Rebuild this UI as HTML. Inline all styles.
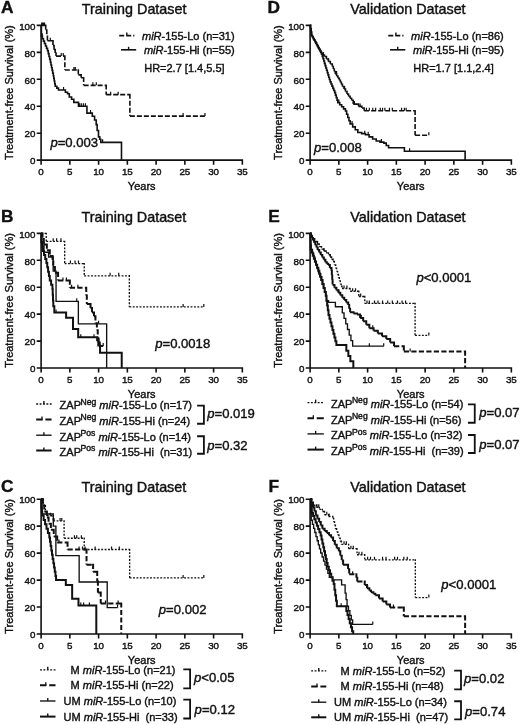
<!DOCTYPE html>
<html><head><meta charset="utf-8"><title>Figure</title>
<style>
html,body{margin:0;padding:0;background:#fff;}
body{width:520px;height:725px;overflow:hidden;}
svg{display:block;will-change:transform;}
text{font-family:"Liberation Sans", sans-serif;fill:#111;stroke:#111;stroke-width:0.4px;}
.tk{font-size:9.8px;}
.lg{font-size:11px;}
.sup{font-size:8.6px;}
.pv{font-size:13.1px;}
.tt{font-size:13.8px;}
.pl{font-size:17.3px;font-weight:bold;}
</style></head>
<body>
<svg width="520" height="725" viewBox="0 0 520 725">
<rect width="520" height="725" fill="#fff"/>
<path d="M41.10,24.60V160.95M40.30,160.15H243.15M36.70,160.15H41.10M36.70,133.20H41.10M36.70,106.25H41.10M36.70,79.30H41.10M36.70,52.35H41.10M36.70,25.40H41.10M41.10,160.15V164.75M69.85,160.15V164.75M98.60,160.15V164.75M127.35,160.15V164.75M156.10,160.15V164.75M184.85,160.15V164.75M213.60,160.15V164.75M242.35,160.15V164.75" stroke="#111" stroke-width="1.6" fill="none"/>
<text x="35.50" y="164.35" text-anchor="end" class="tk">0</text>
<text x="35.50" y="137.40" text-anchor="end" class="tk">20</text>
<text x="35.50" y="110.45" text-anchor="end" class="tk">40</text>
<text x="35.50" y="83.50" text-anchor="end" class="tk">60</text>
<text x="35.50" y="56.55" text-anchor="end" class="tk">80</text>
<text x="35.50" y="29.60" text-anchor="end" class="tk">100</text>
<text x="41.10" y="175.25" text-anchor="middle" class="tk">0</text>
<text x="69.85" y="175.25" text-anchor="middle" class="tk">5</text>
<text x="98.60" y="175.25" text-anchor="middle" class="tk">10</text>
<text x="127.35" y="175.25" text-anchor="middle" class="tk">15</text>
<text x="156.10" y="175.25" text-anchor="middle" class="tk">20</text>
<text x="184.85" y="175.25" text-anchor="middle" class="tk">25</text>
<text x="213.60" y="175.25" text-anchor="middle" class="tk">30</text>
<text x="242.35" y="175.25" text-anchor="middle" class="tk">35</text>
<text x="141.72" y="189.95" text-anchor="middle" class="lg">Years</text>
<text transform="translate(13.40,92.58) rotate(-90)" text-anchor="middle" class="lg">Treatment-free Survival (%)</text>
<path d="M41.10,232.60V368.80M40.30,368.00H243.15M36.70,368.00H41.10M36.70,341.08H41.10M36.70,314.16H41.10M36.70,287.24H41.10M36.70,260.32H41.10M36.70,233.40H41.10M41.10,368.00V372.60M69.85,368.00V372.60M98.60,368.00V372.60M127.35,368.00V372.60M156.10,368.00V372.60M184.85,368.00V372.60M213.60,368.00V372.60M242.35,368.00V372.60" stroke="#111" stroke-width="1.6" fill="none"/>
<text x="35.50" y="372.20" text-anchor="end" class="tk">0</text>
<text x="35.50" y="345.28" text-anchor="end" class="tk">20</text>
<text x="35.50" y="318.36" text-anchor="end" class="tk">40</text>
<text x="35.50" y="291.44" text-anchor="end" class="tk">60</text>
<text x="35.50" y="264.52" text-anchor="end" class="tk">80</text>
<text x="35.50" y="237.60" text-anchor="end" class="tk">100</text>
<text x="41.10" y="383.10" text-anchor="middle" class="tk">0</text>
<text x="69.85" y="383.10" text-anchor="middle" class="tk">5</text>
<text x="98.60" y="383.10" text-anchor="middle" class="tk">10</text>
<text x="127.35" y="383.10" text-anchor="middle" class="tk">15</text>
<text x="156.10" y="383.10" text-anchor="middle" class="tk">20</text>
<text x="184.85" y="383.10" text-anchor="middle" class="tk">25</text>
<text x="213.60" y="383.10" text-anchor="middle" class="tk">30</text>
<text x="242.35" y="383.10" text-anchor="middle" class="tk">35</text>
<text x="141.72" y="397.80" text-anchor="middle" class="lg">Years</text>
<text transform="translate(13.40,300.50) rotate(-90)" text-anchor="middle" class="lg">Treatment-free Survival (%)</text>
<path d="M41.10,498.40V634.80M40.30,634.00H243.15M36.70,634.00H41.10M36.70,607.04H41.10M36.70,580.08H41.10M36.70,553.12H41.10M36.70,526.16H41.10M36.70,499.20H41.10M41.10,634.00V638.60M69.85,634.00V638.60M98.60,634.00V638.60M127.35,634.00V638.60M156.10,634.00V638.60M184.85,634.00V638.60M213.60,634.00V638.60M242.35,634.00V638.60" stroke="#111" stroke-width="1.6" fill="none"/>
<text x="35.50" y="638.20" text-anchor="end" class="tk">0</text>
<text x="35.50" y="611.24" text-anchor="end" class="tk">20</text>
<text x="35.50" y="584.28" text-anchor="end" class="tk">40</text>
<text x="35.50" y="557.32" text-anchor="end" class="tk">60</text>
<text x="35.50" y="530.36" text-anchor="end" class="tk">80</text>
<text x="35.50" y="503.40" text-anchor="end" class="tk">100</text>
<text x="41.10" y="649.10" text-anchor="middle" class="tk">0</text>
<text x="69.85" y="649.10" text-anchor="middle" class="tk">5</text>
<text x="98.60" y="649.10" text-anchor="middle" class="tk">10</text>
<text x="127.35" y="649.10" text-anchor="middle" class="tk">15</text>
<text x="156.10" y="649.10" text-anchor="middle" class="tk">20</text>
<text x="184.85" y="649.10" text-anchor="middle" class="tk">25</text>
<text x="213.60" y="649.10" text-anchor="middle" class="tk">30</text>
<text x="242.35" y="649.10" text-anchor="middle" class="tk">35</text>
<text x="141.72" y="663.80" text-anchor="middle" class="lg">Years</text>
<text transform="translate(13.40,566.40) rotate(-90)" text-anchor="middle" class="lg">Treatment-free Survival (%)</text>
<path d="M310.10,24.60V160.95M309.30,160.15H512.15M305.70,160.15H310.10M305.70,133.20H310.10M305.70,106.25H310.10M305.70,79.30H310.10M305.70,52.35H310.10M305.70,25.40H310.10M310.10,160.15V164.75M338.85,160.15V164.75M367.60,160.15V164.75M396.35,160.15V164.75M425.10,160.15V164.75M453.85,160.15V164.75M482.60,160.15V164.75M511.35,160.15V164.75" stroke="#111" stroke-width="1.6" fill="none"/>
<text x="304.50" y="164.35" text-anchor="end" class="tk">0</text>
<text x="304.50" y="137.40" text-anchor="end" class="tk">20</text>
<text x="304.50" y="110.45" text-anchor="end" class="tk">40</text>
<text x="304.50" y="83.50" text-anchor="end" class="tk">60</text>
<text x="304.50" y="56.55" text-anchor="end" class="tk">80</text>
<text x="304.50" y="29.60" text-anchor="end" class="tk">100</text>
<text x="310.10" y="175.25" text-anchor="middle" class="tk">0</text>
<text x="338.85" y="175.25" text-anchor="middle" class="tk">5</text>
<text x="367.60" y="175.25" text-anchor="middle" class="tk">10</text>
<text x="396.35" y="175.25" text-anchor="middle" class="tk">15</text>
<text x="425.10" y="175.25" text-anchor="middle" class="tk">20</text>
<text x="453.85" y="175.25" text-anchor="middle" class="tk">25</text>
<text x="482.60" y="175.25" text-anchor="middle" class="tk">30</text>
<text x="511.35" y="175.25" text-anchor="middle" class="tk">35</text>
<text x="410.73" y="189.95" text-anchor="middle" class="lg">Years</text>
<text transform="translate(282.40,92.58) rotate(-90)" text-anchor="middle" class="lg">Treatment-free Survival (%)</text>
<path d="M310.10,232.60V368.80M309.30,368.00H512.15M305.70,368.00H310.10M305.70,341.08H310.10M305.70,314.16H310.10M305.70,287.24H310.10M305.70,260.32H310.10M305.70,233.40H310.10M310.10,368.00V372.60M338.85,368.00V372.60M367.60,368.00V372.60M396.35,368.00V372.60M425.10,368.00V372.60M453.85,368.00V372.60M482.60,368.00V372.60M511.35,368.00V372.60" stroke="#111" stroke-width="1.6" fill="none"/>
<text x="304.50" y="372.20" text-anchor="end" class="tk">0</text>
<text x="304.50" y="345.28" text-anchor="end" class="tk">20</text>
<text x="304.50" y="318.36" text-anchor="end" class="tk">40</text>
<text x="304.50" y="291.44" text-anchor="end" class="tk">60</text>
<text x="304.50" y="264.52" text-anchor="end" class="tk">80</text>
<text x="304.50" y="237.60" text-anchor="end" class="tk">100</text>
<text x="310.10" y="383.10" text-anchor="middle" class="tk">0</text>
<text x="338.85" y="383.10" text-anchor="middle" class="tk">5</text>
<text x="367.60" y="383.10" text-anchor="middle" class="tk">10</text>
<text x="396.35" y="383.10" text-anchor="middle" class="tk">15</text>
<text x="425.10" y="383.10" text-anchor="middle" class="tk">20</text>
<text x="453.85" y="383.10" text-anchor="middle" class="tk">25</text>
<text x="482.60" y="383.10" text-anchor="middle" class="tk">30</text>
<text x="511.35" y="383.10" text-anchor="middle" class="tk">35</text>
<text x="410.73" y="397.80" text-anchor="middle" class="lg">Years</text>
<text transform="translate(282.40,300.50) rotate(-90)" text-anchor="middle" class="lg">Treatment-free Survival (%)</text>
<path d="M310.10,498.40V634.80M309.30,634.00H512.15M305.70,634.00H310.10M305.70,607.04H310.10M305.70,580.08H310.10M305.70,553.12H310.10M305.70,526.16H310.10M305.70,499.20H310.10M310.10,634.00V638.60M338.85,634.00V638.60M367.60,634.00V638.60M396.35,634.00V638.60M425.10,634.00V638.60M453.85,634.00V638.60M482.60,634.00V638.60M511.35,634.00V638.60" stroke="#111" stroke-width="1.6" fill="none"/>
<text x="304.50" y="638.20" text-anchor="end" class="tk">0</text>
<text x="304.50" y="611.24" text-anchor="end" class="tk">20</text>
<text x="304.50" y="584.28" text-anchor="end" class="tk">40</text>
<text x="304.50" y="557.32" text-anchor="end" class="tk">60</text>
<text x="304.50" y="530.36" text-anchor="end" class="tk">80</text>
<text x="304.50" y="503.40" text-anchor="end" class="tk">100</text>
<text x="310.10" y="649.10" text-anchor="middle" class="tk">0</text>
<text x="338.85" y="649.10" text-anchor="middle" class="tk">5</text>
<text x="367.60" y="649.10" text-anchor="middle" class="tk">10</text>
<text x="396.35" y="649.10" text-anchor="middle" class="tk">15</text>
<text x="425.10" y="649.10" text-anchor="middle" class="tk">20</text>
<text x="453.85" y="649.10" text-anchor="middle" class="tk">25</text>
<text x="482.60" y="649.10" text-anchor="middle" class="tk">30</text>
<text x="511.35" y="649.10" text-anchor="middle" class="tk">35</text>
<text x="410.73" y="663.80" text-anchor="middle" class="lg">Years</text>
<text transform="translate(282.40,566.40) rotate(-90)" text-anchor="middle" class="lg">Treatment-free Survival (%)</text>
<text x="0.9" y="13.4" class="pl">A</text>
<text x="1.0" y="222.0" class="pl">B</text>
<text x="0.9" y="492.0" class="pl">C</text>
<text x="267.6" y="13.4" class="pl">D</text>
<text x="268.2" y="222.0" class="pl">E</text>
<text x="268.6" y="492.0" class="pl">F</text>
<text transform="translate(81.8,14.2) scale(1.04,1)" class="tt">Training Dataset</text>
<text transform="translate(81.6,221.9) scale(1.04,1)" class="tt">Training Dataset</text>
<text transform="translate(81.6,492.0) scale(1.04,1)" class="tt">Training Dataset</text>
<text transform="translate(350.3,14.2) scale(1.04,1)" class="tt">Validation Dataset</text>
<text transform="translate(350.3,221.6) scale(1.04,1)" class="tt">Validation Dataset</text>
<text transform="translate(350.3,492.4) scale(1.04,1)" class="tt">Validation Dataset</text>
<path d="M119.20,35.60H134.40" stroke="#111" stroke-width="1.6" fill="none" stroke-dasharray="5 2"/>
<path d="M126.80,35.60V32.60" stroke="#111" stroke-width="1.4" fill="none"/>
<text x="142.00" y="39.6" class="lg"><tspan font-style="italic">miR</tspan>-155-Lo (n=31)</text>
<path d="M121.00,49.80H136.20" stroke="#111" stroke-width="1.6" fill="none"/>
<path d="M128.60,49.80V46.80" stroke="#111" stroke-width="1.4" fill="none"/>
<text x="143.90" y="53.9" class="lg"><tspan font-style="italic">miR</tspan>-155-Hi (n=55)</text>
<text x="144.20" y="71.8" class="lg">HR=2.7 [1.4,5.5]</text>
<path d="M388.30,35.60H403.50" stroke="#111" stroke-width="1.6" fill="none" stroke-dasharray="5 2"/>
<path d="M395.90,35.60V32.60" stroke="#111" stroke-width="1.4" fill="none"/>
<text x="411.10" y="39.6" class="lg"><tspan font-style="italic">miR</tspan>-155-Lo (n=86)</text>
<path d="M390.10,49.80H405.30" stroke="#111" stroke-width="1.6" fill="none"/>
<path d="M397.70,49.80V46.80" stroke="#111" stroke-width="1.4" fill="none"/>
<text x="413.00" y="53.9" class="lg"><tspan font-style="italic">miR</tspan>-155-Hi (n=95)</text>
<text x="413.30" y="71.8" class="lg">HR=1.7 [1.1,2.4]</text>
<text x="50.4" y="147.3" class="pv"><tspan font-style="italic">p</tspan>=0.003</text>
<text x="314.0" y="152.0" class="pv"><tspan font-style="italic">p</tspan>=0.008</text>
<text x="155.2" y="347.8" class="pv"><tspan font-style="italic">p</tspan>=0.0018</text>
<text x="416.4" y="281.9" class="pv"><tspan font-style="italic">p</tspan>&lt;0.0001</text>
<text x="158.8" y="613.9" class="pv"><tspan font-style="italic">p</tspan>=0.002</text>
<text x="441.3" y="588.6" class="pv"><tspan font-style="italic">p</tspan>&lt;0.0001</text>
<path d="M36.20,404.00H51.60" stroke="#111" stroke-width="1.35" fill="none" stroke-dasharray="1.9 1.5"/>
<path d="M43.90,404.00V401.00" stroke="#111" stroke-width="1.35" fill="none"/>
<text x="59.60" y="409.40" class="lg">ZAP<tspan class="sup" dx="-0.5" dy="-4.6">Neg</tspan><tspan dy="4.6"> </tspan><tspan font-style="italic">miR</tspan>-155-Lo (n=17)</text>
<path d="M36.20,419.60H42.50M45.40,419.60H51.60" stroke="#111" stroke-width="2.0" fill="none"/>
<path d="M42.00,420.20V416.60" stroke="#111" stroke-width="1.3" fill="none"/>
<text x="59.60" y="425.00" class="lg">ZAP<tspan class="sup" dx="-0.5" dy="-4.6">Neg</tspan><tspan dy="4.6"> </tspan><tspan font-style="italic">miR</tspan>-155-Hi (n=24)</text>
<path d="M36.20,435.20H51.60" stroke="#111" stroke-width="1.35" fill="none"/>
<path d="M43.90,435.20V432.20" stroke="#111" stroke-width="1.35" fill="none"/>
<text x="59.60" y="440.60" class="lg">ZAP<tspan class="sup" dx="-0.5" dy="-4.6">Pos</tspan><tspan dy="4.6"> </tspan><tspan font-style="italic">miR</tspan>-155-Lo (n=14)</text>
<path d="M36.20,450.50H51.60" stroke="#111" stroke-width="2.0" fill="none"/>
<path d="M43.90,450.50V447.50" stroke="#111" stroke-width="1.4" fill="none"/>
<text x="59.60" y="455.90" class="lg">ZAP<tspan class="sup" dx="-0.5" dy="-4.6">Pos</tspan><tspan dy="4.6"> </tspan><tspan font-style="italic">miR</tspan>-155-Hi&#160;&#160;(n=31)</text>
<path d="M197.10,405.60H203.90V423.75H197.10" stroke="#111" stroke-width="1.8" fill="none"/>
<text x="207.20" y="417.75" class="pv"><tspan font-style="italic">p</tspan>=0.019</text>
<path d="M197.10,436.25H203.90V453.75H197.10" stroke="#111" stroke-width="1.8" fill="none"/>
<text x="207.20" y="449.50" class="pv"><tspan font-style="italic">p</tspan>=0.32</text>
<path d="M307.50,402.60H323.80" stroke="#111" stroke-width="1.35" fill="none" stroke-dasharray="1.9 1.5"/>
<path d="M315.65,402.60V399.60" stroke="#111" stroke-width="1.35" fill="none"/>
<text x="331.00" y="408.00" class="lg">ZAP<tspan class="sup" dx="-0.5" dy="-4.6">Neg</tspan><tspan dy="4.6"> </tspan><tspan font-style="italic">miR</tspan>-155-Lo (n=54)</text>
<path d="M307.50,418.20H313.80M316.70,418.20H323.80" stroke="#111" stroke-width="2.0" fill="none"/>
<path d="M313.30,418.80V415.20" stroke="#111" stroke-width="1.3" fill="none"/>
<text x="331.00" y="423.60" class="lg">ZAP<tspan class="sup" dx="-0.5" dy="-4.6">Neg</tspan><tspan dy="4.6"> </tspan><tspan font-style="italic">miR</tspan>-155-Hi (n=56)</text>
<path d="M307.50,433.90H323.80" stroke="#111" stroke-width="1.35" fill="none"/>
<path d="M315.65,433.90V430.90" stroke="#111" stroke-width="1.35" fill="none"/>
<text x="331.00" y="439.30" class="lg">ZAP<tspan class="sup" dx="-0.5" dy="-4.6">Pos</tspan><tspan dy="4.6"> </tspan><tspan font-style="italic">miR</tspan>-155-Lo (n=32)</text>
<path d="M307.50,449.60H323.80" stroke="#111" stroke-width="2.0" fill="none"/>
<path d="M315.65,449.60V446.60" stroke="#111" stroke-width="1.4" fill="none"/>
<text x="331.00" y="455.00" class="lg">ZAP<tspan class="sup" dx="-0.5" dy="-4.6">Pos</tspan><tspan dy="4.6"> </tspan><tspan font-style="italic">miR</tspan>-155-Hi&#160;&#160;(n=39)</text>
<path d="M467.95,404.40H474.75V422.75H467.95" stroke="#111" stroke-width="1.8" fill="none"/>
<text x="479.20" y="416.70" class="pv"><tspan font-style="italic">p</tspan>=0.07</text>
<path d="M467.95,435.00H474.75V453.00H467.95" stroke="#111" stroke-width="1.8" fill="none"/>
<text x="479.20" y="449.20" class="pv"><tspan font-style="italic">p</tspan>=0.07</text>
<path d="M40.00,669.80H55.50" stroke="#111" stroke-width="1.35" fill="none" stroke-dasharray="1.9 1.5"/>
<path d="M47.75,669.80V666.80" stroke="#111" stroke-width="1.35" fill="none"/>
<text x="70.60" y="673.80" class="lg">M <tspan font-style="italic">miR</tspan>-155-Lo (n=21)</text>
<path d="M40.00,685.20H46.30M49.20,685.20H55.50" stroke="#111" stroke-width="2.0" fill="none"/>
<path d="M45.80,685.80V682.20" stroke="#111" stroke-width="1.3" fill="none"/>
<text x="70.60" y="689.20" class="lg">M <tspan font-style="italic">miR</tspan>-155-Hi (n=22)</text>
<path d="M40.00,701.00H55.50" stroke="#111" stroke-width="1.35" fill="none"/>
<path d="M47.75,701.00V698.00" stroke="#111" stroke-width="1.35" fill="none"/>
<text x="63.60" y="705.00" class="lg">UM <tspan font-style="italic">miR</tspan>-155-Lo (n=10)</text>
<path d="M40.00,716.60H55.50" stroke="#111" stroke-width="2.0" fill="none"/>
<path d="M47.75,716.60V713.60" stroke="#111" stroke-width="1.4" fill="none"/>
<text x="63.60" y="720.60" class="lg">UM <tspan font-style="italic">miR</tspan>-155-Hi&#160;&#160;(n=33)</text>
<path d="M183.30,669.40H190.10V688.30H183.30" stroke="#111" stroke-width="1.8" fill="none"/>
<text x="194.00" y="682.45" class="pv"><tspan font-style="italic">p</tspan>&lt;0.05</text>
<path d="M183.30,699.70H190.10V718.50H183.30" stroke="#111" stroke-width="1.8" fill="none"/>
<text x="194.60" y="714.35" class="pv"><tspan font-style="italic">p</tspan>=0.12</text>
<path d="M311.20,670.90H326.30" stroke="#111" stroke-width="1.35" fill="none" stroke-dasharray="1.9 1.5"/>
<path d="M318.75,670.90V667.90" stroke="#111" stroke-width="1.35" fill="none"/>
<text x="340.60" y="674.90" class="lg">M <tspan font-style="italic">miR</tspan>-155-Lo (n=52)</text>
<path d="M311.20,686.40H317.50M320.40,686.40H326.30" stroke="#111" stroke-width="2.0" fill="none"/>
<path d="M317.00,687.00V683.40" stroke="#111" stroke-width="1.3" fill="none"/>
<text x="340.60" y="690.40" class="lg">M <tspan font-style="italic">miR</tspan>-155-Hi (n=48)</text>
<path d="M311.20,702.20H326.30" stroke="#111" stroke-width="1.35" fill="none"/>
<path d="M318.75,702.20V699.20" stroke="#111" stroke-width="1.35" fill="none"/>
<text x="334.10" y="706.20" class="lg">UM <tspan font-style="italic">miR</tspan>-155-Lo (n=34)</text>
<path d="M311.20,717.30H326.30" stroke="#111" stroke-width="2.0" fill="none"/>
<path d="M318.75,717.30V714.30" stroke="#111" stroke-width="1.4" fill="none"/>
<text x="334.10" y="721.30" class="lg">UM <tspan font-style="italic">miR</tspan>-155-Hi&#160;&#160;(n=47)</text>
<path d="M454.20,670.60H461.00V689.40H454.20" stroke="#111" stroke-width="1.8" fill="none"/>
<text x="464.00" y="683.35" class="pv"><tspan font-style="italic">p</tspan>=0.02</text>
<path d="M454.20,701.25H461.00V719.40H454.20" stroke="#111" stroke-width="1.8" fill="none"/>
<text x="465.00" y="715.60" class="pv"><tspan font-style="italic">p</tspan>=0.74</text>
<path d="M41.10,25.40H45.70M45.70,24.60V29.98M45.70,29.98H46.79M46.79,29.18V36.18M46.79,36.18H47.43M47.43,35.38V40.76M47.43,40.76H53.00M53.00,39.96V45.61M53.00,45.61H54.04M54.04,44.81V49.66M54.04,49.66H55.19M55.19,48.86V53.02M55.19,53.02H56.05M56.05,52.22V56.12M56.05,56.12H64.85M64.85,55.32V70.00M64.85,70.00H78.30M78.30,69.20V74.85M78.30,74.85H81.18M81.18,74.05V77.68M81.18,77.68H83.65M83.65,76.88V85.36M83.65,85.36H106.19M106.19,84.56V94.66M106.19,94.66H129.88M129.88,93.86V116.09M129.88,116.09H204.97" stroke="#111" stroke-width="1.6" fill="none" stroke-dasharray="5 2"/>
<path d="M41.68,25.40v-3M42.25,25.40v-3M42.83,25.40v-3M43.40,25.40v-3M43.98,25.40v-3M44.55,25.40v-3M50.30,40.76v-3M61.23,56.12v-3M63.24,56.12v-3M73.88,70.00v-3M75.31,70.00v-3M92.85,85.36v-3M96.30,85.36v-3M110.68,94.66v-3M118.15,94.66v-3M183.12,116.09v-3M204.97,116.09v-3" stroke="#111" stroke-width="1.2" fill="none"/>
<path d="M41.10,25.40H41.39V36.31H42.41V38.72H43.44V41.12H44.46V43.52H45.49V45.93H46.51V48.33H47.54V50.73H48.26V53.63H48.98V56.53H49.70V59.42H50.42V62.32H50.99V65.02H51.56V67.71H52.14V70.41H52.72V73.10H53.29V75.80H53.76V78.42H54.24V81.05H54.71V83.68H55.19V86.31H56.83V88.13H58.47V89.95H65.36V92.24H67.55V93.72H69.28V96.95H71.58V99.24H73.82V102.34H78.47V106.25H86.93V113.12H92.28V116.22H94.58V119.99H96.19V124.58H97.16V130.50H98.49V136.84H99.75V139.26H100.78V142.36H121.49V160.15" stroke="#111" stroke-width="1.6" fill="none" stroke-linejoin="miter"/>
<path d="M42.25,36.31v-3M63.53,89.95v-3M79.62,106.25v-3M81.35,106.25v-3M83.36,106.25v-3M85.38,106.25v-3M90.55,113.12v-3M102.62,142.36v-3" stroke="#111" stroke-width="1.2" fill="none"/>
<path d="M310.10,25.40H310.58M310.58,24.60V28.77M310.58,28.77H311.06M311.06,27.97V32.14M311.06,32.14H311.54M311.54,31.34V35.51M311.54,35.51H312.38M312.38,34.71V37.02M312.38,37.02H313.21M313.21,36.22V38.54M313.21,38.54H314.05M314.05,37.74V40.05M314.05,40.05H314.89M314.89,39.25V41.57M314.89,41.57H315.73M315.73,40.77V43.09M315.73,43.09H316.57M316.57,42.29V44.60M316.57,44.60H317.41M317.41,43.80V46.12M317.41,46.12H318.25M318.25,45.32V47.63M318.25,47.63H319.08M319.08,46.83V49.15M319.08,49.15H319.92M319.92,48.35V50.67M319.92,50.67H320.76M320.76,49.87V52.18M320.76,52.18H321.60M321.60,51.38V53.70M321.60,53.70H323.04M323.04,52.90V55.11M323.04,55.11H324.48M324.48,54.31V56.53M324.48,56.53H326.43M326.43,55.73V59.02M326.43,59.02H328.38M328.38,58.22V61.51M328.38,61.51H330.34M330.34,60.71V64.01M330.34,64.01H332.30M332.30,63.21V66.50M332.30,66.50H333.29M333.29,65.70V69.01M333.29,69.01H334.29M334.29,68.21V71.53M334.29,71.53H335.29M335.29,70.73V74.04M335.29,74.04H336.63M336.63,73.24V76.11M336.63,76.11H337.97M337.97,75.31V78.18M337.97,78.18H339.31M339.31,77.38V80.24M339.31,80.24H340.35M340.35,79.44V82.31M340.35,82.31H341.38M341.38,81.51V84.38M341.38,84.38H342.42M342.42,83.58V86.44M342.42,86.44H343.95M343.95,85.64V89.00M343.95,89.00H345.48M345.48,88.20V91.56M345.48,91.56H347.02M347.02,90.76V94.12M347.02,94.12H348.55M348.55,93.32V96.19M348.55,96.19H350.08M350.08,95.39V98.25M350.08,98.25H351.62M351.62,97.45V100.32M351.62,100.32H353.23M353.23,99.52V104.09M353.23,104.09H358.57M358.57,103.29V106.38M358.57,106.38H361.85M361.85,105.58V108.00M361.85,108.00H364.15M364.15,107.20V110.70M364.15,110.70H415.10M415.10,109.90V135.22M415.10,135.22H428.84" stroke="#111" stroke-width="1.6" fill="none" stroke-dasharray="5 2"/>
<path d="M323.33,55.11v-3M328.50,61.51v-3M336.55,74.04v-3M344.60,89.00v-3M354.38,104.09v-3M360.12,106.38v-3M366.45,110.70v-3M369.33,110.70v-3M372.78,110.70v-3M375.65,110.70v-3M380.25,110.70v-3M382.55,110.70v-3M384.85,110.70v-3M389.45,110.70v-3M392.33,110.70v-3M401.53,110.70v-3M404.40,110.70v-3M406.12,110.70v-3M428.84,135.22v-3" stroke="#111" stroke-width="1.2" fill="none"/>
<path d="M310.10,25.40H310.58V28.77H311.06V32.14H311.54V35.51H312.38V37.06H313.21V38.61H314.05V40.16H314.89V41.70H315.73V43.25H316.57V44.80H317.41V46.35H318.25V47.90H319.08V49.45H319.92V51.00H320.76V52.55H321.60V54.10H322.31V56.41H323.02V58.73H323.73V61.04H324.44V63.35H325.15V65.67H325.86V67.98H326.56V70.29H327.27V72.61H327.98V74.92H328.69V77.23H329.40V79.55H330.11V81.86H331.03V84.02H331.95V86.17H332.87V88.33H333.79V90.48H334.71V92.64H335.49V95.13H336.26V97.63H337.04V100.12H337.82V102.61H339.73V104.70H341.64V106.79H343.55V108.88H345.46V110.97H346.63V114.23H347.79V117.50H348.96V120.77H350.12V124.04H352.69V126.87H355.26V129.70H357.83V132.53H361.65V133.67H365.47V134.82H369.06V136.88H372.64V138.95H376.23V141.02H380.05V142.09H383.87V143.17H386.23V145.46H388.59V147.75H404.40V151.26H465.12V160.15" stroke="#111" stroke-width="1.6" fill="none" stroke-linejoin="miter"/>
<path d="M338.85,102.61v-3M352.08,124.04v-3M364.73,133.67v-3M368.18,134.82v-3M381.40,142.09v-3M409.58,151.26v-3" stroke="#111" stroke-width="1.2" fill="none"/>
<path d="M41.10,233.40H46.27M46.27,232.72V241.34M46.27,241.34H64.67M64.67,240.67V263.55M64.67,263.55H84.22M84.22,262.88V275.80M84.22,275.80H129.36M129.36,275.12V306.89M129.36,306.89H203.82" stroke="#111" stroke-width="1.35" fill="none" stroke-dasharray="1.9 1.5"/>
<path d="M53.18,241.34v-3M56.62,241.34v-3M60.94,241.34v-3M70.42,263.55v-3M75.03,263.55v-3M78.47,263.55v-3M110.10,275.80v-3M118.72,275.80v-3M183.12,306.89v-3M203.82,306.89v-3" stroke="#111" stroke-width="1.2" fill="none"/>
<path d="M41.10,233.40H42.54M42.54,232.40V239.05M42.54,239.05H43.80M43.80,238.05V244.57M43.80,244.57H46.85M46.85,243.57V250.22M46.85,250.22H49.78M49.78,249.22V255.88M49.78,255.88H52.60M52.60,254.88V261.40M52.60,261.40H53.29M53.29,260.40V267.05M53.29,267.05H54.90M54.90,266.05V272.70M54.90,272.70H58.06M58.06,271.70V280.51M58.06,280.51H69.85M69.85,279.51V287.78M69.85,287.78H86.24M86.24,286.78V295.45M86.24,295.45H86.81M86.81,294.45V303.93M86.81,303.93H90.55M90.55,302.93V308.10M90.55,308.10H91.99M91.99,307.10V312.41M91.99,312.41H94.00M94.00,311.41V316.31M94.00,316.31H95.44M95.44,315.31V323.18M95.44,323.18H96.88M96.88,322.18V330.31M96.88,330.31H97.74M97.74,329.31V338.39M97.74,338.39H98.60M98.60,337.39V342.43M98.60,342.43H99.75M99.75,341.43V345.93M99.75,345.93H103.20" stroke="#111" stroke-width="2.0" fill="none" stroke-dasharray="5.2 2.3"/>
<path d="M62.95,280.51v-3M66.40,280.51v-3M71.58,287.78v-3M77.90,287.78v-3M103.20,345.93v-3" stroke="#111" stroke-width="1.2" fill="none"/>
<path d="M41.10,233.40H41.68V242.96H43.98V252.24H48.58V256.95H53.18V271.09H56.05V301.37H78.36V323.85H106.65V368.00" stroke="#111" stroke-width="1.35" fill="none" stroke-linejoin="miter"/>
<path d="M76.75,301.37v-3M98.60,323.85v-3" stroke="#111" stroke-width="1.2" fill="none"/>
<path d="M41.10,233.40H41.39V242.15H42.13V246.59H42.88V251.03H44.05V255.03H45.22V259.02H46.39V263.01H47.24V267.35H48.09V271.69H48.93V276.03H49.78V280.38H51.11V284.75H52.43V289.12H52.72V294.87H53.00V300.61H53.29V306.35H54.33V312.54H66.11V317.79H73.01V329.10H78.19V337.18H97.16V340.27H98.31V345.52H100.04V352.79H121.72V368.00" stroke="#111" stroke-width="2.0" fill="none" stroke-linejoin="miter"/>
<path d="M41.68,242.15v-3M43.40,251.03v-3M56.05,312.54v-3M80.78,337.18v-3M94.00,337.18v-3" stroke="#111" stroke-width="1.2" fill="none"/>
<path d="M310.10,233.40H311.25M311.25,232.72V236.09M311.25,236.09H312.40M312.40,235.42V238.78M312.40,238.78H314.67M314.67,238.11V241.38M314.67,241.38H316.94M316.94,240.70V243.97M316.94,243.97H319.21M319.21,243.29V246.56M319.21,246.56H321.49M321.49,245.88V249.15M321.49,249.15H323.82M323.82,248.47V250.99M323.82,250.99H326.16M326.16,250.31V252.83M326.16,252.83H328.50M328.50,252.15V254.67M328.50,254.67H330.03M330.03,253.99V256.95M330.03,256.95H331.57M331.57,256.28V259.24M331.57,259.24H333.10M333.10,258.57V261.53M333.10,261.53H334.39M334.39,260.86V264.83M334.39,264.83H335.69M335.69,264.15V268.13M335.69,268.13H336.61M336.61,267.45V271.33M336.61,271.33H337.53M337.53,270.66V274.53M337.53,274.53H338.45M338.45,273.86V277.74M338.45,277.74H339.37M339.37,277.06V280.94M339.37,280.94H340.29M340.29,280.27V284.14M340.29,284.14H341.15M341.15,283.47V286.30M341.15,286.30H342.01M342.01,285.62V288.45M342.01,288.45H350.12M350.12,287.78V291.28M350.12,291.28H358.80M358.80,290.60V296.53M358.80,296.53H364.78M364.78,295.85V303.39M364.78,303.39H415.10M415.10,302.72V335.43M415.10,335.43H428.84" stroke="#111" stroke-width="1.35" fill="none" stroke-dasharray="1.9 1.5"/>
<path d="M317.58,243.97v-3M323.90,250.99v-3M330.23,256.95v-3M344.03,288.45v-3M346.90,288.45v-3M352.65,291.28v-3M355.53,291.28v-3M360.70,296.53v-3M367.03,303.39v-3M369.33,303.39v-3M374.50,303.39v-3M377.95,303.39v-3M382.55,303.39v-3M387.73,303.39v-3M392.33,303.39v-3M397.50,303.39v-3M402.10,303.39v-3M405.55,303.39v-3M428.84,335.43v-3" stroke="#111" stroke-width="1.2" fill="none"/>
<path d="M310.10,233.40H310.96M310.96,232.40V235.76M310.96,235.76H311.83M311.83,234.76V238.11M311.83,238.11H313.00M313.00,237.11V240.48M313.00,240.48H314.17M314.17,239.48V242.85M314.17,242.85H315.34M315.34,241.85V245.22M315.34,245.22H316.52M316.52,244.22V247.59M316.52,247.59H317.69M317.69,246.59V249.96M317.69,249.96H319.23M319.23,248.96V252.43M319.23,252.43H320.77M320.77,251.43V254.91M320.77,254.91H322.31M322.31,253.91V257.39M322.31,257.39H323.85M323.85,256.39V259.86M323.85,259.86H325.40M325.40,258.86V262.34M325.40,262.34H326.80M326.80,261.34V263.69M326.80,263.69H328.21M328.21,262.69V265.03M328.21,265.03H329.85M329.85,264.03V267.92M329.85,267.92H331.49M331.49,266.92V270.82M331.49,270.82H331.85M331.85,269.82V275.53M331.85,275.53H332.22M332.22,274.53V280.24M332.22,280.24H332.58M332.58,279.24V284.95M332.58,284.95H334.48M334.48,283.95V287.64M334.48,287.64H336.38M336.38,286.64V290.34M336.38,290.34H338.35M338.35,289.34V292.78M338.35,292.78H340.33M340.33,291.78V295.23M340.33,295.23H342.30M342.30,294.23V297.67M342.30,297.67H344.27M344.27,296.67V300.12M344.27,300.12H346.25M346.25,299.12V302.56M346.25,302.56H348.22M348.22,301.56V305.01M348.22,305.01H349.17M349.17,304.01V308.64M349.17,308.64H350.12M350.12,307.64V312.28M350.12,312.28H353.57M353.57,311.28V313.42M353.57,313.42H357.02M357.02,312.42V314.56M357.02,314.56H360.10M360.10,313.56V317.96M360.10,317.96H363.17M363.17,316.96V321.36M363.17,321.36H366.25M366.25,320.36V324.76M366.25,324.76H369.33M369.33,323.76V328.16M369.33,328.16H373.57M373.57,327.16V330.85M373.57,330.85H377.81M377.81,329.85V333.54M377.81,333.54H382.05M382.05,332.54V336.23M382.05,336.23H386.29M386.29,335.23V338.93M386.29,338.93H390.17M390.17,337.93V342.56M390.17,342.56H394.05M394.05,341.56V346.19M394.05,346.19H403.83M403.83,345.19V351.44M403.83,351.44H465.12M465.12,350.44V368.00" stroke="#111" stroke-width="2.0" fill="none" stroke-dasharray="5.2 2.3"/>
<path d="M338.85,292.78v-3M361.28,317.96v-3M372.78,328.16v-3M410.15,351.44v-3" stroke="#111" stroke-width="1.2" fill="none"/>
<path d="M310.10,233.40H310.39V240.13H310.82V244.84H311.25V249.55H312.46V253.41H313.67V257.27H314.89V261.13H316.10V264.99H317.31V268.84H318.52V272.70H319.74V276.56H320.95V280.42H322.16V284.28H323.37V288.14H324.59V292.00H325.80V295.85H326.49V300.70H328.50V302.32H335.40V306.76H342.30V312.81H344.03V318.38H345.75V323.94H347.48V329.50H349.20V335.07H350.93V340.63H352.65V346.19H383.70" stroke="#111" stroke-width="1.35" fill="none" stroke-linejoin="miter"/>
<path d="M369.33,346.19v-3M383.70,346.19v-3" stroke="#111" stroke-width="1.2" fill="none"/>
<path d="M310.10,233.40H310.56V249.55H311.66V252.59H312.76V255.64H313.85V258.68H314.95V261.72H316.05V264.76H317.15V267.80H318.25V270.85H319.35V273.89H320.44V276.93H321.54V279.97H322.61V283.94H323.67V287.91H324.73V291.88H325.80V295.85H326.47V300.63H327.15V305.41H327.82V310.19H328.50V314.97H329.48V318.72H330.47V322.47H331.45V326.22H332.44V329.98H333.42V333.73H334.41V337.48H335.39V341.23H336.38V344.98H346.33V350.77H348.34V355.95H350.35V361.14H353.34V368.00" stroke="#111" stroke-width="2.0" fill="none" stroke-linejoin="miter"/>
<path d="M41.10,499.20H43.40M43.40,498.52V505.67M43.40,505.67H45.41M45.41,505.00V512.01M45.41,512.01H46.79M46.79,511.33V515.78M46.79,515.78H53.18M53.18,515.11V520.90M53.18,520.90H64.10M64.10,520.23V538.29M64.10,538.29H84.22M84.22,537.62V549.48M84.22,549.48H129.65M129.65,548.81V577.92M129.65,577.92H203.82" stroke="#111" stroke-width="1.35" fill="none" stroke-dasharray="1.9 1.5"/>
<path d="M50.30,515.78v-3M54.04,520.90v-3M60.08,520.90v-3M61.80,520.90v-3M74.45,538.29v-3M76.75,538.29v-3M81.35,538.29v-3M85.09,549.48v-3M95.15,549.48v-3M111.54,549.48v-3M119.30,549.48v-3M183.12,577.92v-3M203.82,577.92v-3" stroke="#111" stroke-width="1.2" fill="none"/>
<path d="M41.10,499.20H42.83M42.83,498.20V505.27M42.83,505.27H44.26M44.26,504.27V511.47M44.26,511.47H46.85M46.85,510.47V517.53M46.85,517.53H48.58M48.58,516.53V523.73M48.58,523.73H50.88M50.88,522.73V529.80M50.88,529.80H53.75M53.75,528.80V536.54M53.75,536.54H57.20M57.20,535.54V542.61M57.20,542.61H67.55M67.55,541.61V549.48M67.55,549.48H86.53M86.53,548.48V564.85M86.53,564.85H93.08M93.08,563.85V571.86M93.08,571.86H97.22M97.22,570.86V581.43M97.22,581.43H97.91M97.91,580.43V592.48M97.91,592.48H100.73M100.73,591.48V603.40M100.73,603.40H121.25M121.25,602.40V634.00" stroke="#111" stroke-width="2.0" fill="none" stroke-dasharray="5.2 2.3"/>
<path d="M58.92,542.61v-3M79.05,549.48v-3M82.50,549.48v-3M98.03,592.48v-3M105.50,603.40v-3M118.15,603.40v-3" stroke="#111" stroke-width="1.2" fill="none"/>
<path d="M41.10,499.20H41.96V514.03H53.29V526.16H55.88V555.55H79.16V581.97H107.22V607.58H117.58" stroke="#111" stroke-width="1.35" fill="none" stroke-linejoin="miter"/>
<path d="M117.58,607.58v-3" stroke="#111" stroke-width="1.2" fill="none"/>
<path d="M41.10,499.20H41.39V507.42H41.82V511.47H42.25V515.51H43.66V519.91H45.08V524.30H46.49V528.69H47.91V533.09H49.32V537.48H49.98V541.80H50.65V546.11H51.31V550.42H51.97V554.74H52.67V559.00H53.37V563.26H54.07V567.52H54.77V571.78H55.48V576.04H56.05V580.08H65.83V585.07H72.15V598.82H78.47V605.42H96.30V634.00" stroke="#111" stroke-width="2.0" fill="none" stroke-linejoin="miter"/>
<path d="M41.96,511.47v-3M80.78,605.42v-3M83.65,605.42v-3M89.40,605.42v-3" stroke="#111" stroke-width="1.2" fill="none"/>
<path d="M310.10,499.20H311.68M311.68,498.52V502.23M311.68,502.23H313.26M313.26,501.56V505.27M313.26,505.27H316.31M316.31,504.59V507.33M316.31,507.33H319.36M319.36,506.66V509.40M319.36,509.40H322.41M322.41,508.72V511.47M322.41,511.47H324.48M324.48,510.79V514.70M324.48,514.70H328.64M328.64,514.03V516.52M328.64,516.52H332.81M332.81,515.85V518.34M332.81,518.34H333.68M333.68,517.67V521.80M333.68,521.80H334.54M334.54,521.13V525.26M334.54,525.26H335.40M335.40,524.59V528.72M335.40,528.72H336.60M336.60,528.05V531.85M336.60,531.85H337.79M337.79,531.17V534.98M337.79,534.98H338.99M338.99,534.30V538.10M338.99,538.10H340.18M340.18,537.43V541.23M340.18,541.23H341.38M341.38,540.56V544.36M341.38,544.36H348.62M348.62,543.68V548.67M348.62,548.67H357.02M357.02,548.00V554.74M357.02,554.74H364.73M364.73,554.06V559.86M364.73,559.86H415.33M415.33,559.19V597.60M415.33,597.60H428.84" stroke="#111" stroke-width="1.35" fill="none" stroke-dasharray="1.9 1.5"/>
<path d="M317.00,507.33v-3M318.73,507.33v-3M326.78,514.70v-3M329.08,516.52v-3M344.03,544.36v-3M346.33,544.36v-3M350.93,548.67v-3M353.23,548.67v-3M358.98,554.74v-3M361.85,554.74v-3M367.60,559.86v-3M370.48,559.86v-3M374.50,559.86v-3M382.55,559.86v-3M386.00,559.86v-3M394.62,559.86v-3M397.50,559.86v-3M403.83,559.86v-3M407.28,559.86v-3M428.84,597.60v-3" stroke="#111" stroke-width="1.2" fill="none"/>
<path d="M310.10,499.20H311.54M311.54,498.20V503.24M311.54,503.24H312.98M312.98,502.24V507.29M312.98,507.29H314.41M314.41,506.29V511.33M314.41,511.33H315.85M315.85,510.33V515.38M315.85,515.38H317.49M317.49,514.38V518.71M317.49,518.71H319.13M319.13,517.71V522.05M319.13,522.05H320.77M320.77,521.05V525.38M320.77,525.38H322.41M322.41,524.38V528.72M322.41,528.72H324.58M324.58,527.72V530.91M324.58,530.91H326.75M326.75,529.91V533.10M326.75,533.10H328.92M328.92,532.10V535.29M328.92,535.29H331.09M331.09,534.29V537.48M331.09,537.48H333.10M333.10,536.48V541.12M333.10,541.12H334.83M334.83,540.12V544.76M334.83,544.76H336.72M336.72,543.76V548.27M336.72,548.27H338.85M338.85,547.27V551.23M338.85,551.23H340.29M340.29,550.23V555.82M340.29,555.82H341.73M341.73,554.82V560.53M341.73,560.53H343.11M343.11,559.53V564.85M343.11,564.85H348.05M348.05,563.85V569.30M348.05,569.30H349.20M349.20,568.30V574.15M349.20,574.15H356.39M356.39,573.15V577.79M356.39,577.79H357.25M357.25,576.79V581.43M357.25,581.43H364.73M364.73,580.43V584.93M364.73,584.93H367.03M367.03,583.93V588.30M367.03,588.30H369.33M369.33,587.30V590.46M369.33,590.46H371.05M371.05,589.46V592.35M371.05,592.35H373.35M373.35,591.35V593.83M373.35,593.83H375.31M375.31,592.83V595.31M375.31,595.31H378.99M378.99,594.31V598.38M378.99,598.38H382.67M382.67,597.38V601.45M382.67,601.45H386.35M386.35,600.45V604.51M386.35,604.51H390.03M390.03,603.51V607.58M390.03,607.58H403.83M403.83,606.58V616.34M403.83,616.34H465.12M465.12,615.34V634.00" stroke="#111" stroke-width="2.0" fill="none" stroke-dasharray="5.2 2.3"/>
<path d="M352.65,574.15v-3M367.60,588.30v-3M393.48,607.58v-3" stroke="#111" stroke-width="1.2" fill="none"/>
<path d="M310.10,499.20H310.68V512.68H311.25V520.23H312.43V524.32H313.61V528.42H314.79V532.51H315.97V536.61H317.14V540.70H318.32V544.80H319.50V548.89H320.68V552.99H322.12V557.03H323.56V561.07H324.99V565.12H326.43V569.16H327.87V573.21H329.31V577.25H332.81V579.81H341.61V584.93H345.12V593.16H346.10V599.69H347.07V606.23H348.47V610.78H349.86V615.33H351.26V619.88H352.65V624.43H372.78" stroke="#111" stroke-width="1.35" fill="none" stroke-linejoin="miter"/>
<path d="M372.78,624.43v-3" stroke="#111" stroke-width="1.2" fill="none"/>
<path d="M310.10,499.20H310.96V505.94H311.83V512.68H313.09V515.95H314.36V519.23H315.62V522.50H316.89V525.77H318.15V529.05H319.42V532.32H320.68V535.60H321.54V539.51H322.41V543.41H323.27V547.32H324.13V551.23H324.99V555.14H325.86V559.05H326.72V562.96H327.58V566.87H328.80V570.32H330.02V573.77H331.24V577.22H332.46V580.67H333.68V584.12H334.47V589.65H335.26V595.18H336.05V600.70H336.84V606.23H346.33V611.08H347.48V615.10H348.62V619.12H349.78V623.14H350.93V627.15H352.08V631.17H353.23V634.00" stroke="#111" stroke-width="2.0" fill="none" stroke-linejoin="miter"/>
<path d="M341.15,606.23v-3" stroke="#111" stroke-width="1.2" fill="none"/>
</svg>
</body></html>
